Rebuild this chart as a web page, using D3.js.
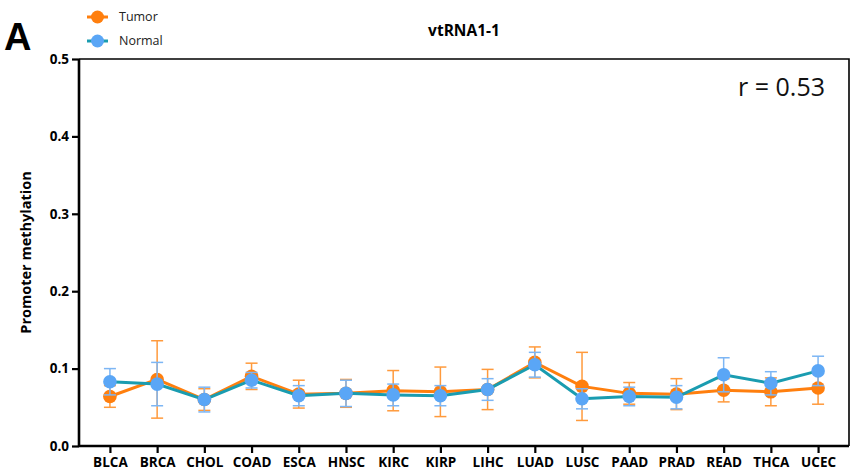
<!DOCTYPE html>
<html>
<head>
<meta charset="utf-8">
<script src="https://cdn.jsdelivr.net/npm/d3@7"></script>
<style>
  html, body { margin: 0; padding: 0; background: #fff; }
  svg { display: block; font-family: "Open Sans", "Noto Sans", sans-serif; }
</style>
</head>
<body>
<svg id="chart" width="857" height="472"></svg>
<script>
// Cancer types (TCGA cohorts)
const categories = ["BLCA","BRCA","CHOL","COAD","ESCA","HNSC","KIRC","KIRP","LIHC","LUAD","LUSC","PAAD","PRAD","READ","THCA","UCEC"];

// Mean promoter methylation and standard deviation per cohort
const tumorMean = [0.064,0.086,0.060,0.090,0.067,0.068,0.0715,0.070,0.073,0.108,0.077,0.068,0.067,0.072,0.070,0.075];
const tumorSD   = [0.014,0.050,0.014,0.017,0.018,0.018,0.026,0.032,0.026,0.020,0.044,0.014,0.020,0.015,0.018,0.021];
const normalMean = [0.083,0.080,0.060,0.085,0.065,0.068,0.066,0.065,0.073,0.105,0.061,0.064,0.063,0.092,0.081,0.097];
const normalSD   = [0.017,0.028,0.016,0.010,0.013,0.017,0.014,0.013,0.014,0.016,0.013,0.012,0.015,0.022,0.015,0.019];

const yTicks = [0.0, 0.1, 0.2, 0.3, 0.4, 0.5];
const title = "vtRNA1-1";
const corrLabel = "r = 0.53";

const svg = d3.select("#chart");
const m = { left: 79, right: 849, top: 59, bottom: 446 };

const x = d3.scalePoint().domain(categories).range([m.left, m.right]).padding(0.655);
const y = d3.scaleLinear().domain([0, 0.5]).range([m.bottom, m.top]);

// Frame (top and right edges)
svg.append("path")
  .attr("d", `M${m.left},${m.top}H${m.right}V${m.bottom}`)
  .attr("fill", "none").attr("stroke", "#000").attr("stroke-width", 1.6);

// Y axis
const yAxis = svg.append("g").attr("transform", `translate(${m.left},0)`)
  .call(d3.axisLeft(y).tickValues(yTicks).tickFormat(d3.format(".1f")).tickSize(7).tickPadding(3));
yAxis.select(".domain").attr("stroke-width", 2.6).attr("d", `M0,${m.top}V${m.bottom}`);
yAxis.selectAll(".tick line").attr("stroke-width", 2.2);
yAxis.selectAll("text").attr("font-size", 13.5).attr("font-weight", "bold").attr("fill", "#000")
  .attr("font-family", "'Open Sans', sans-serif");

// X axis
const xAxis = svg.append("g").attr("transform", `translate(0,${m.bottom})`)
  .call(d3.axisBottom(x).tickSize(7).tickPadding(4));
xAxis.select(".domain").attr("stroke-width", 2.6).attr("d", `M${m.left},0H${m.right}`);
xAxis.selectAll(".tick line").attr("stroke-width", 2.2);
xAxis.selectAll("text").attr("font-size", 13.5).attr("font-weight", "bold").attr("fill", "#000")
  .attr("font-family", "'Open Sans', sans-serif");

// Series definitions
const series = [
  { name: "Tumor", mean: tumorMean, sd: tumorSD, line: "#FF7F0E", dot: "#FF7F0E", err: "#FF9A3C" },
  { name: "Normal", mean: normalMean, sd: normalSD, line: "#1A9CB0", dot: "#5AA6F6", err: "#7DB6F4" }
];

const capW = 6;
series.forEach(s => {
  const g = svg.append("g");
  const pts = categories.map((c, i) => ({ c, v: s.mean[i], e: s.sd[i] }));
  // error bars
  const eb = g.append("g").selectAll("g").data(pts).join("g");
  eb.append("line")
    .attr("x1", d => x(d.c)).attr("x2", d => x(d.c))
    .attr("y1", d => y(d.v - d.e)).attr("y2", d => y(d.v + d.e))
    .attr("stroke", s.err).attr("stroke-width", 1.5);
  [-1, 1].forEach(sign => {
    eb.append("line")
      .attr("x1", d => x(d.c) - capW).attr("x2", d => x(d.c) + capW)
      .attr("y1", d => y(d.v + sign * d.e)).attr("y2", d => y(d.v + sign * d.e))
      .attr("stroke", s.err).attr("stroke-width", 1.5);
  });
  // connecting line
  g.append("path").datum(pts)
    .attr("d", d3.line().x(d => x(d.c)).y(d => y(d.v)))
    .attr("fill", "none").attr("stroke", s.line).attr("stroke-width", 3);
  // markers
  g.append("g").selectAll("circle").data(pts).join("circle")
    .attr("cx", d => x(d.c)).attr("cy", d => y(d.v)).attr("r", 6.8)
    .attr("fill", s.dot);
});

// Legend
const legend = svg.append("g");
series.forEach((s, i) => {
  const ly = 17 + i * 24;
  legend.append("line").attr("x1", 87).attr("x2", 108).attr("y1", ly).attr("y2", ly)
    .attr("stroke", s.line).attr("stroke-width", 3);
  legend.append("circle").attr("cx", 97.5).attr("cy", ly).attr("r", 6.5).attr("fill", s.dot);
  legend.append("text").attr("x", 119).attr("y", ly).attr("dy", "0.35em")
    .attr("font-size", 12.5).attr("fill", "#222").text(s.name);
});

// Panel letter
svg.append("text").attr("x", 4).attr("y", 50).attr("font-size", 38).attr("font-weight", "bold")
  .attr("font-family", "Arial, 'Liberation Sans', sans-serif").text("A");

// Title
svg.append("text").attr("x", (m.left + m.right) / 2).attr("y", 36).attr("text-anchor", "middle")
  .attr("font-size", 15.5).attr("font-weight", "bold").text(title);

// Y label
svg.append("text").attr("transform", `translate(31,${(m.top + m.bottom) / 2}) rotate(-90)`)
  .attr("text-anchor", "middle").attr("font-size", 14.5).attr("font-weight", "bold").text("Promoter methylation");

// Correlation annotation
svg.append("text").attr("x", 825).attr("y", 96).attr("text-anchor", "end")
  .attr("font-size", 25).attr("fill", "#111").text(corrLabel);
</script>
</body>
</html>
